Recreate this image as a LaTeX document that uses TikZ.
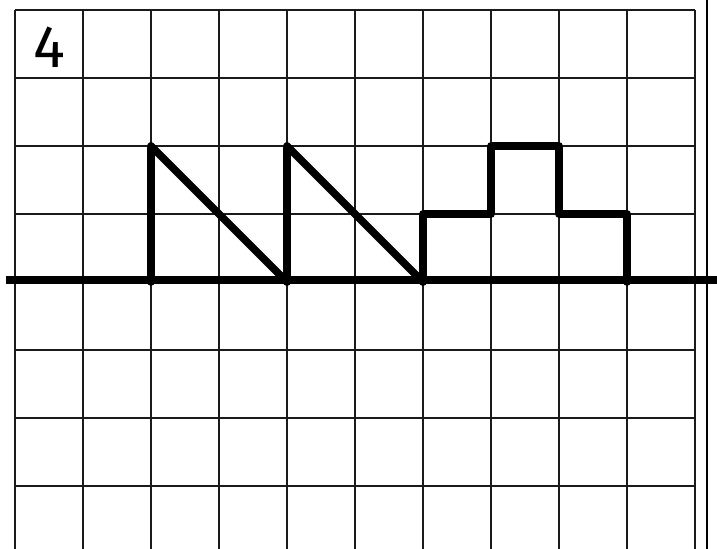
\documentclass[tikz,border=0pt]{standalone}
\usepackage{fontspec}
\setsansfont{Fira Sans}
\usepackage{xcolor}
\definecolor{cInk}{HTML}{000000}
\definecolor{cGrid}{HTML}{1A1A1A}
\usepackage{tikz}
\usetikzlibrary{positioning}
\tikzset{
  grid-line/.style={draw=cGrid,line width=0.75pt},
  edge-line/.style={draw=cInk,line width=1.1pt},
  axis-line/.style={draw=cInk,line width=3.6pt},
  figure-line/.style={draw=cInk,line width=3.2pt,line cap=round,line join=round},
  task-label/.style={font=\sffamily\fontsize{25}{25}\selectfont,text=cInk,inner sep=0pt},
}
\begin{document}
\begin{tikzpicture}
  \useasboundingbox (-0.2206,-3.926) rectangle (10.324,4.147);
  % grid
  \foreach \x in {0,...,10}
    \draw[grid-line] (\x,4) -- (\x,-3.93);
  \foreach \y in {4,3,...,-3}
    \draw[grid-line] (0,\y) -- (10,\y);
  \draw[edge-line] (10.176,4.15) -- (10.176,-3.93);
  % axis
  \draw[axis-line] (-0.13,0.03) -- (10.33,0.03);
  % figures
  \draw[figure-line] (2,0) -- (2,2) -- (4,0);
  \draw[figure-line] (4,0) -- (4,2) -- (6,0);
  \draw[figure-line] (6,0) -- (6,1) -- (7,1) -- (7,2) -- (8,2) -- (8,1) -- (9,1) -- (9,0);
  \node[task-label] (num) at (0.5,3.45) {4};
\end{tikzpicture}
\end{document}
